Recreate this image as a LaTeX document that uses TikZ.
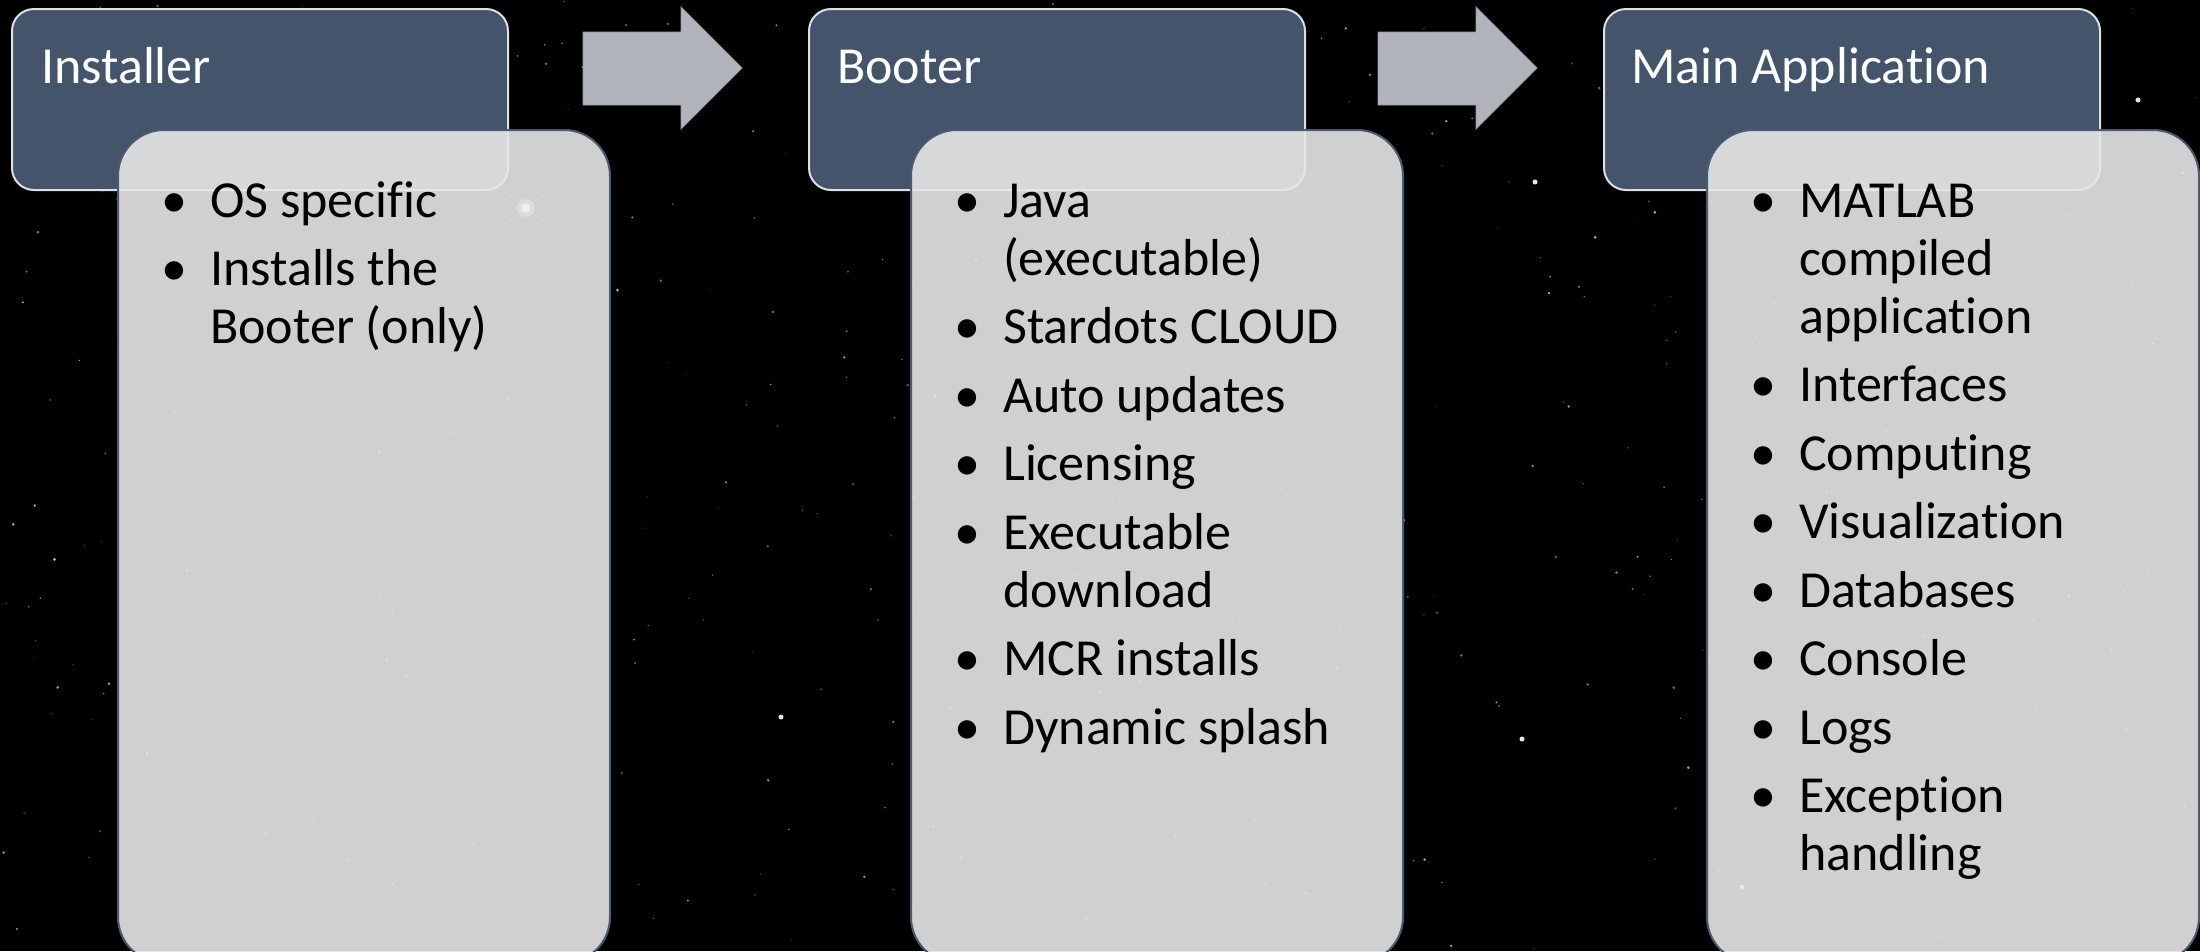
\documentclass[tikz,border=0pt]{standalone}
\usepackage{fontspec}
\setmainfont{Carlito}[RawFeature={-liga;-clig}]
\definecolor{hdrfill}{HTML}{44546A}
\definecolor{hdrline}{HTML}{DCDFE4}
\definecolor{lowfill}{HTML}{E7E7E7}
\definecolor{lowline}{HTML}{4A5A72}
\definecolor{arrfill}{HTML}{B1B4BC}
\definecolor{arrline}{HTML}{9599A3}
\newcommand\blist[1]{\vtop{\hsize=460pt\fontsize{52pt}{58pt}\selectfont\parindent=0pt\parskip=0pt #1}}
\newcommand\bi{\par\hangindent=46pt\hangafter=1\noindent\makebox[46pt][l]{\makebox[20pt][c]{•}}}
\begin{document}
\begin{tikzpicture}[x=1pt,y=-1pt,
  hdr/.style={minimum width=496pt, minimum height=181pt, rounded corners=22pt,
    fill=hdrfill, draw=hdrline, line width=2pt, inner sep=0pt, anchor=north west},
  low/.style={minimum width=492pt, minimum height=833pt, rounded corners=46pt,
    fill=lowfill, fill opacity=0.9, draw=lowline, line width=2pt, inner sep=0pt, anchor=north west},
  ttl/.style={anchor=base west, inner sep=0pt, text=white, font=\fontsize{52pt}{58pt}\selectfont},
  lst/.style={anchor=base west, inner sep=0pt, text=black},
  arr/.style={fill=arrfill, draw=arrline, line width=0.8pt}]
\useasboundingbox (0,0) rectangle (2200,951);
\fill[black] (0,0) rectangle (2200,951);
\clip (0,0) rectangle (2200,951);
% star field
\pgfmathsetseed{4242}
\foreach \i in {1,...,520}{
  \pgfmathsetmacro\sx{rnd*2200}
  \pgfmathsetmacro\sy{rnd*951}
  \pgfmathsetmacro\sr{0.5+rnd*1.1}
  \pgfmathsetmacro\so{0.15+rnd*0.55}
  \fill[white, opacity=\so] (\sx,\sy) circle[radius=\sr];
}
\foreach \p in {(781,717),(1535,182),(2138,100),(1742,887),(1522,739)}{
  \fill[white, opacity=0.9] \p circle[radius=2.5];
}
% headers
\node[hdr] (h1) at (11,8) {};
\node[hdr] (h2) at (808,8) {};
\node[hdr] (h3) at (1603,8) {};
% arrows
\draw[arr] (583,32) -- (681,32) -- (681,7) -- (742,68) -- (681,129) -- (681,105) -- (583,105) -- cycle;
\draw[arr] (1378,32) -- (1476,32) -- (1476,7) -- (1537,68) -- (1476,129) -- (1476,105) -- (1378,105) -- cycle;
% lower boxes
\node[low] (b1) at (117,129) {};
\node[low] (b2) at (910,129) {};
\node[low] (b3) at (1706,129) {};
% bright star glow inside first box
\fill[white, opacity=0.25] (526,208) circle[radius=9];
\fill[white, opacity=0.5] (526,208) circle[radius=5];
\draw[white, opacity=0.15, line width=1pt] (500,188) -- (552,228) (500,228) -- (552,188);
% titles
\node[ttl] (t1) at ([shift={(30,75)}]h1.north west) {Installer};
\node[ttl] (t2) at ([shift={(29,75)}]h2.north west) {Booter};
\node[ttl] (t3) at ([shift={(28,75)}]h3.north west) {Main Application};
% lists
\node[lst] (l1) at ([shift={(47,88)}]b1.north west) {\blist{%
  \bi OS specific\par\parskip=10.5pt
  \bi Installs the\newline Booter (only)\par}};
\node[lst] (l2) at ([shift={(47,88)}]b2.north west) {\blist{%
  \bi Java\newline (executable)\par\parskip=10.5pt
  \bi Stardots CLOUD\par
  \bi Auto updates\par
  \bi Licensing\par
  \bi Executable\newline download\par
  \bi MCR installs\par
  \bi Dynamic splash\par}};
\node[lst] (l3) at ([shift={(47,88)}]b3.north west) {\blist{%
  \bi MATLAB\newline compiled\newline application\par\parskip=10.5pt
  \bi Interfaces\par
  \bi Computing\par
  \bi Visualization\par
  \bi Databases\par
  \bi Console\par
  \bi Logs\par
  \bi Exception\newline handling\par}};
\end{tikzpicture}
\end{document}
